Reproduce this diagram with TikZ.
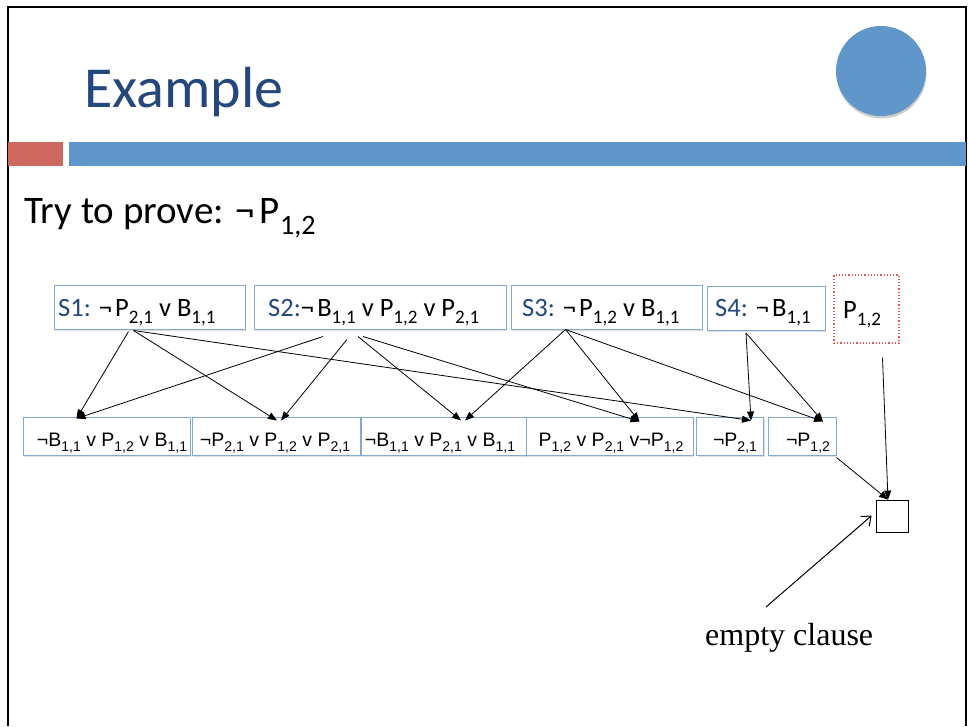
\documentclass[tikz,border=0pt]{standalone}
\usepackage{fontspec}
\usepackage{graphicx}
\setmainfont{Carlito}
\newfontfamily\arialf{Liberation Sans}
\newfontfamily\timesf{Liberation Serif}
\usetikzlibrary{arrows.meta,shadows}
\definecolor{titleblue}{RGB}{36,72,124}
\definecolor{barblue}{RGB}{97,150,202}
\definecolor{barred}{RGB}{205,104,95}
\definecolor{boxblue}{RGB}{130,168,214}
\definecolor{dotred}{RGB}{225,90,90}
\newcommand\lo[1]{\raisebox{-0.3em}{\scalebox{0.72}{#1}}}
\newcommand\nega{¬\kern0.12em}
\tikzset{
  clbox/.style={draw=boxblue, line width=1pt, fill=white, inner sep=0pt,
    drop shadow={shadow xshift=1pt, shadow yshift=-1.5pt, opacity=0.25}},
  toptxt/.style={anchor=base west, inner sep=0pt, font=\fontsize{26.5}{30}\selectfont},
  bottxt/.style={anchor=base, inner sep=0pt, font=\arialf\fontsize{19.5}{23}\selectfont},
  arr/.style={-{Triangle[length=9pt,width=7pt]}, line width=0.8pt},
}
\begin{document}
\begin{tikzpicture}[x=1pt,y=-1pt]
\useasboundingbox (0,0) rectangle (969,726);
% frame
\draw[line width=2pt] (8,726) -- (8,7) -- (966,7) -- (966,726);
% bars
\fill[barred] (8,142) rectangle (63,166);
\fill[barblue] (69,142) rectangle (966,166);
% circle
\node[circle, fill=barblue, minimum size=90pt, inner sep=0pt,
  drop shadow={shadow xshift=0.5pt, shadow yshift=-2.5pt, opacity=0.4}] (circ) at (881,71) {};
% title
\node[anchor=base west, inner sep=0pt, text=titleblue, font=\fontsize{58}{64}\selectfont] (title) at (84,107) {Example};
\node[anchor=base west, inner sep=0pt, font=\fontsize{39}{44}\selectfont] (try) at (24,223) {Try to prove: \nega{}P\lo{1,2}};
% top boxes
\node[clbox, minimum width=191pt, minimum height=44pt] (s1) at (149.5,307) {};
\node[clbox, minimum width=252pt, minimum height=44pt] (s2) at (380,307) {};
\node[clbox, minimum width=191pt, minimum height=44pt] (s3) at (606.5,307) {};
\node[clbox, minimum width=118pt, minimum height=44pt] (s4) at (766,308.5) {};
\node[draw=dotred, dotted, line width=1.2pt, minimum width=65pt, minimum height=68pt, inner sep=0pt] (p12) at (866.5,309) {};
\node[toptxt] (s1t) at (58,316) {\textcolor{titleblue}{S1:} \nega{}P\lo{2,1} v B\lo{1,1}};
\node[toptxt] (s2t) at (268,316) {\textcolor{titleblue}{S2:}\nega{}B\lo{1,1} v P\lo{1,2} v P\lo{2,1}};
\node[toptxt] (s3t) at (522,316) {\textcolor{titleblue}{S3:} \nega{}P\lo{1,2} v B\lo{1,1}};
\node[toptxt] (s4t) at (715,316) {\textcolor{titleblue}{S4:} \nega{}B\lo{1,1}};
\node[toptxt] (p12t) at (843,318) {P\lo{1,2}};
% bottom boxes
\node[clbox, minimum width=167pt, minimum height=38pt] (b1) at (106.5,436) {};
\node[clbox, minimum width=168pt, minimum height=38pt] (b2) at (276,436) {};
\node[clbox, minimum width=166pt, minimum height=38pt] (b3) at (444,436) {};
\node[clbox, minimum width=167pt, minimum height=38pt] (b4) at (609.5,436) {};
\node[clbox, minimum width=67pt, minimum height=38pt] (b5) at (730,436) {};
\node[clbox, minimum width=68pt, minimum height=38pt] (b6) at (802,436) {};
\node[bottxt] (b1t) at (112,446) {¬B\lo{1,1} v P\lo{1,2} v B\lo{1,1}};
\node[bottxt] (b2t) at (275,446) {¬P\lo{2,1} v P\lo{1,2} v P\lo{2,1}};
\node[bottxt] (b3t) at (440,446) {¬B\lo{1,1} v P\lo{2,1} v B\lo{1,1}};
\node[bottxt] (b4t) at (611,446) {P\lo{1,2} v P\lo{2,1} v¬P\lo{1,2}};
\node[bottxt] (b5t) at (735,446) {¬P\lo{2,1}};
\node[bottxt] (b6t) at (808,446) {¬P\lo{1,2}};
% empty clause
\node[draw, line width=0.8pt, minimum size=32pt, inner sep=0pt] (ec) at (892,516) {};
\node[anchor=base west, inner sep=0pt, font=\timesf\fontsize{32}{36}\selectfont] (ect) at (705,645) {empty clause};
\coordinate (ecl) at (766,607);
% arrows
\draw[arr] ([xshift=-21pt,yshift=-2pt]s1.south) -- ([xshift=-30pt,yshift=-2pt]b1.north);
\draw[arr] ([xshift=-16pt,yshift=-1pt]s1.south) -- ([xshift=1pt,yshift=-4pt]b2.north);
\draw[arr] ([xshift=-16pt,yshift=-1pt]s1.south) -- ([xshift=21pt,yshift=-4pt]b5.north);
\draw[arr] ([xshift=-57pt,yshift=-7pt]s2.south) -- ([xshift=-30pt,yshift=-2pt]b1.north);
\draw[arr] ([xshift=-33pt,yshift=-10pt]s2.south) -- ([xshift=5pt,yshift=-4pt]b2.north);
\draw[arr] ([xshift=-22pt,yshift=-7pt]s2.south) -- ([xshift=17pt,yshift=-4pt]b3.north);
\draw[arr] ([xshift=-17pt,yshift=-7pt]s2.south) -- ([xshift=30pt,yshift=-5pt]b4.north);
\draw[arr] ([xshift=-41pt,yshift=0pt]s3.south) -- ([xshift=21pt,yshift=-4pt]b3.north);
\draw[arr] ([xshift=-41pt,yshift=0pt]s3.south) -- ([xshift=30pt,yshift=-5pt]b4.north);
\draw[arr] ([xshift=-41pt,yshift=0pt]s3.south) -- ([xshift=21pt,yshift=-5pt]b6.north);
\draw[arr] ([xshift=-20pt,yshift=-2pt]s4.south) -- ([xshift=21pt,yshift=-4pt]b5.north);
\draw[arr] ([xshift=-20pt,yshift=-2pt]s4.south) -- ([xshift=21pt,yshift=-5pt]b6.north);
\draw[arr] ([xshift=16pt,yshift=-14pt]p12.south) -- ([xshift=-4pt]ec.north);
\draw[arr] ([yshift=-2pt]b6.south east) -- ([xshift=-4pt]ec.north);
\draw[-{Straight Barb[length=8pt,width=13pt]}, line width=1pt] (ecl) -- ([xshift=-4pt,yshift=-16pt]ec.north west);
\end{tikzpicture}
\end{document}
